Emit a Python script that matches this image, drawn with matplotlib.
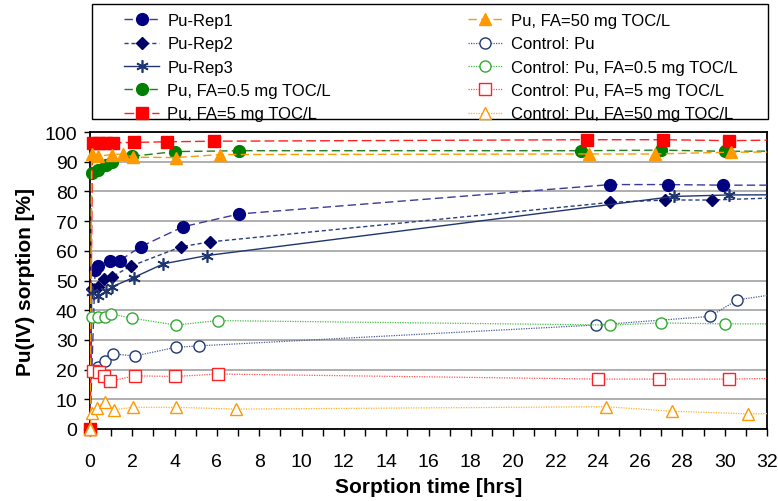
import matplotlib
matplotlib.use("Agg")
import matplotlib.pyplot as plt
from matplotlib.patches import Rectangle
from matplotlib.ticker import MultipleLocator

plt.rcParams['font.family'] = ['Liberation Sans', 'DejaVu Sans']

# ---------------- data ----------------
t_rep1 = [0, 0.24, 0.4, 0.95, 1.4, 2.4, 4.4, 7.05, 24.6, 27.3, 29.9, 34]
y_rep1 = [0, 53.5, 55.0, 56.5, 56.7, 61.4, 68.1, 72.4, 82.3, 82.3, 82.1, 82.1]

t_rep2 = [0, 0.08, 0.39, 0.68, 1.05, 1.92, 4.32, 5.68, 24.6, 27.2, 29.4, 34]
y_rep2 = [0, 47.1, 47.7, 50.4, 51.3, 54.8, 61.4, 63.0, 76.3, 77.1, 77.1, 78.2]

t_rep3 = [0, 0.08, 0.4, 0.76, 1.05, 2.06, 3.47, 5.52, 27.6, 30.2, 34]
y_rep3 = [0, 46.0, 44.8, 46.3, 47.9, 51.0, 55.6, 58.4, 78.3, 78.8, 78.9]

t_fa05 = [0, 0.08, 0.38, 0.76, 1.03, 1.97, 4.0, 7.05, 23.2, 27.0, 30.0, 34]
y_fa05 = [0, 86.2, 87.3, 89.0, 90.0, 91.8, 93.4, 93.7, 93.7, 93.9, 93.5, 93.6]

t_fa5 = [0, 0.12, 0.44, 0.75, 1.1, 2.1, 3.63, 5.84, 23.5, 27.1, 30.2, 34]
y_fa5 = [0, 96.4, 96.4, 96.4, 96.4, 96.5, 96.7, 96.9, 97.4, 97.4, 97.1, 97.4]

t_fa50 = [0, 0.08, 0.39, 1.03, 1.55, 2.05, 4.06, 6.15, 23.6, 26.7, 30.3, 34]
y_fa50 = [0, 92.6, 91.9, 92.4, 92.6, 91.5, 91.4, 92.4, 92.6, 92.6, 93.2, 93.3]

t_cpu = [0.36, 0.72, 1.07, 2.12, 4.06, 5.17, 23.9, 29.3, 30.6, 34]
y_cpu = [20.8, 22.9, 25.3, 24.6, 27.5, 28.0, 35.0, 37.9, 43.5, 47.0]

t_c05 = [0.09, 0.38, 0.70, 1.01, 1.99, 4.07, 6.03, 24.6, 27.0, 30.0, 34]
y_c05 = [37.8, 37.6, 37.6, 38.7, 37.3, 35.0, 36.5, 35.0, 35.7, 35.4, 35.4]

t_c5 = [0.14, 0.41, 0.68, 0.96, 2.11, 4.02, 6.07, 24.0, 26.9, 30.2, 34]
y_c5 = [19.6, 19.1, 17.9, 16.1, 17.9, 17.7, 18.5, 16.8, 16.8, 16.8, 17.2]

t_c50 = [0, 0.09, 0.33, 0.69, 1.15, 2.02, 4.07, 6.91, 24.4, 27.5, 31.1, 34]
y_c50 = [0, 5.4, 7.0, 9.2, 6.5, 7.3, 7.3, 6.7, 7.5, 6.0, 5.1, 5.3]

labels = ["Pu-Rep1", "Pu-Rep2", "Pu-Rep3", "Pu, FA=0.5 mg TOC/L", "Pu, FA=5 mg TOC/L",
          "Pu, FA=50 mg TOC/L", "Control: Pu", "Control: Pu, FA=0.5 mg TOC/L",
          "Control: Pu, FA=5 mg TOC/L", "Control: Pu, FA=50 mg TOC/L"]
xticks = list(range(0, 33, 2))
yticks = list(range(0, 101, 10))
XMAX, YMAX = 32, 100

# ---------------- figure ----------------
W, H = 778, 502
fig = plt.figure(figsize=(W / 100, H / 100), dpi=100)
ax = fig.add_axes([90 / W, 1 - 430 / H, (767 - 90) / W, (430 - 133) / H])

series = [
    (t_rep1, y_rep1, dict(color='#3a3a9a', ls=(0, (6, 3)), lw=1.0),
     dict(marker='o', ms=8.5, mfc='#000080', mec='#000080')),
    (t_rep2, y_rep2, dict(color='#2a3f7f', ls=(0, (3, 2)), lw=1.0),
     dict(marker='D', ms=6.5, mfc='#000066', mec='#000066')),
    (t_rep3, y_rep3, dict(color='#1f3570', ls='-', lw=1.0),
     dict(marker=(6, 2, 0), ms=9, mfc='#1f3570', mec='#1f3570', mew=1.2)),
    (t_fa05, y_fa05, dict(color='#208020', ls=(0, (6, 3)), lw=1.0),
     dict(marker='o', ms=8.5, mfc='#008000', mec='#008000')),
    (t_fa5, y_fa5, dict(color='#ff2020', ls=(0, (7, 3)), lw=1.0),
     dict(marker='s', ms=8, mfc='#ff0000', mec='#ff0000')),
    (t_fa50, y_fa50, dict(color='#ff9900', ls=(0, (6, 3)), lw=1.0),
     dict(marker='^', ms=8.5, mfc='#ff9900', mec='#ff9900')),
    (t_cpu, y_cpu, dict(color='#4a5c95', ls=(0, (1, 1)), lw=0.9),
     dict(marker='o', ms=8, mfc='white', mec='#203870', mew=1.0)),
    (t_c05, y_c05, dict(color='#44bb44', ls=(0, (1, 1)), lw=0.9),
     dict(marker='o', ms=8, mfc='white', mec='#33aa33', mew=1.0)),
    (t_c5, y_c5, dict(color='#ff5555', ls=(0, (1, 1)), lw=0.9),
     dict(marker='s', ms=8, mfc='white', mec='#ff2222', mew=1.0)),
    (t_c50, y_c50, dict(color='#ffb030', ls=(0, (1, 1)), lw=0.9),
     dict(marker='^', ms=8.5, mfc='white', mec='#ff9900', mew=1.0)),
]

handles = []
z = 3
for (t, y, lst, mst), lab in zip(series, labels):
    # connecting line (clipped to the plot area)
    ax.plot(t, y, zorder=z, **lst)
    # markers inside the axis range, not clipped (like the original)
    tin = [a for a in t if a <= XMAX]
    yin = [b for a, b in zip(t, y) if a <= XMAX]
    ax.plot(tin, yin, ls='none', zorder=z + 0.5, clip_on=False, **mst)
    z += 1
    h, = ax.plot([], [], label=lab, **lst, **mst)
    handles.append(h)

ax.set_xlim(0, XMAX)
ax.set_ylim(0, YMAX)
ax.set_xticks(xticks)
ax.set_xticklabels([str(v) for v in xticks])
ax.xaxis.set_minor_locator(MultipleLocator(1))
ax.set_yticks(yticks)
ax.set_yticklabels([str(v) for v in yticks])
ax.tick_params(axis='both', which='both', direction='out', labelsize=14, width=1.0)
ax.tick_params(axis='x', which='both', length=5, pad=12)
ax.tick_params(axis='y', which='major', length=4, pad=5)
ax.grid(axis='y', color='#a8a8a8', lw=1.3)
ax.set_axisbelow(True)
for s in ax.spines.values():
    s.set_color('black')
    s.set_linewidth(1.3)

ax.set_xlabel("Sorption time [hrs]", fontsize=15, fontweight='bold', labelpad=5)
ax.set_ylabel("Pu(IV) sorption [%]", fontsize=15, fontweight='bold', labelpad=7)

# legend frame and two legend columns
fig.patches.append(Rectangle((92 / W, 1 - 120 / H), (768 - 92) / W, (120 - 5) / H,
                             transform=fig.transFigure, fill=False, ec='black', lw=1.0))
leg_kw = dict(frameon=False, loc='upper left', fontsize=12, borderpad=0,
              handlelength=2.1, handletextpad=0.5, labelspacing=0.5, borderaxespad=0)
leg1 = fig.legend(handles[:5], labels[:5], bbox_to_anchor=(124 / W, 1 - 14 / H), **leg_kw)
leg2 = fig.legend(handles[5:], labels[5:], bbox_to_anchor=(468 / W, 1 - 14 / H), **leg_kw)

fig.savefig("out.png", dpi=100)
